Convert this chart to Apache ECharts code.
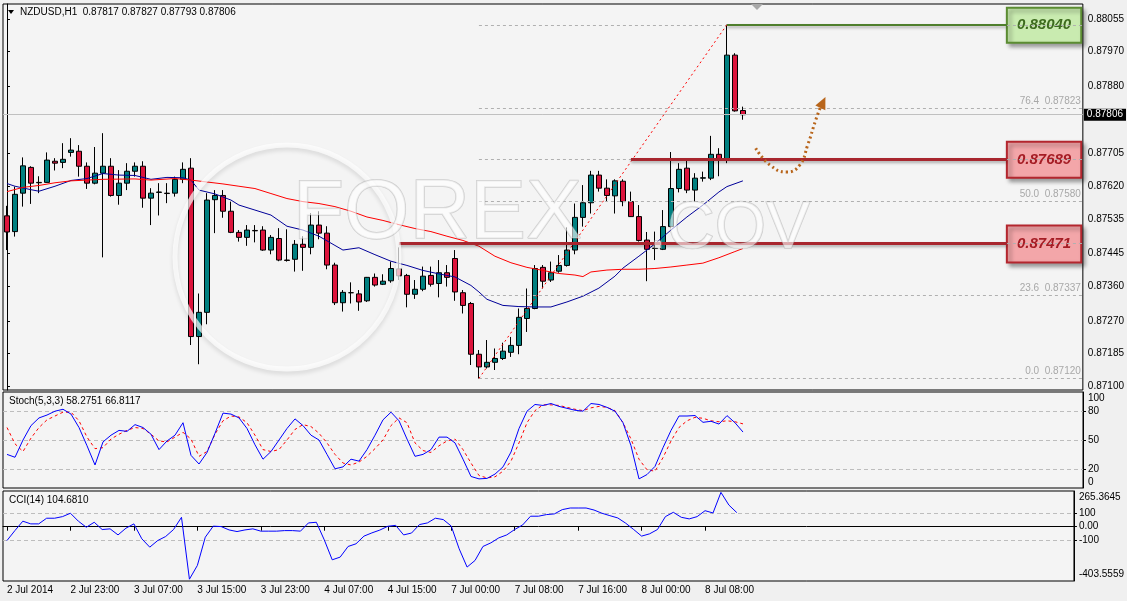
<!DOCTYPE html>
<html>
<head>
<meta charset="utf-8">
<script src="https://cdn.jsdelivr.net/npm/echarts@6.0.0/dist/echarts.min.js"></script>
<style>
  html, body { margin: 0; padding: 0; background: #f0f0f0; }
  #chart { width: 1127px; height: 601px; }
</style>
</head>
<body>
<div id="chart"></div>
<script>
// ---- data ----
var symbolName = "NZDUSD,H1";
var slotCount = 135;   // 93 bars + empty chart shift on the right
var labelStep = 8;
var tickLabels = ["2 Jul 2014", "2 Jul 23:00", "3 Jul 07:00", "3 Jul 15:00", "3 Jul 23:00", "4 Jul 07:00",
  "4 Jul 15:00", "7 Jul 00:00", "7 Jul 08:00", "7 Jul 16:00", "8 Jul 00:00", "8 Jul 08:00"];

var open = [0.87543,0.87502,0.87602,0.87669,0.87630,0.87630,0.87685,0.87682,0.87708,0.87711,
  0.87672,0.87628,0.87654,0.87672,0.87596,0.87628,0.87659,0.87672,0.87589,0.87604,
  0.87602,0.87602,0.87638,0.87667,0.87229,0.87292,0.87585,0.87596,0.87555,0.87500,
  0.87487,0.87505,0.87506,0.87454,0.87484,0.87428,0.87430,0.87469,0.87461,0.87519,
  0.87498,0.87415,0.87317,0.87343,0.87340,0.87322,0.87383,0.87365,0.87374,0.87405,
  0.87388,0.87339,0.87352,0.87388,0.87367,0.87395,0.87432,0.87343,0.87315,0.87183,
  0.87150,0.87162,0.87172,0.87188,0.87206,0.87276,0.87302,0.87409,0.87376,0.87399,
  0.87414,0.87454,0.87539,0.87577,0.87649,0.87615,0.87595,0.87633,0.87580,0.87541,
  0.87480,0.87458,0.87456,0.87515,0.87614,0.87667,0.87610,0.87641,0.87641,0.87703,
  0.87690,0.87961,0.87817];
var close = [0.87501,0.87599,0.87673,0.87628,0.87629,0.87688,0.87680,0.87690,0.87714,0.87672,
  0.87628,0.87654,0.87672,0.87596,0.87628,0.87659,0.87672,0.87589,0.87602,0.87605,
  0.87601,0.87638,0.87664,0.87229,0.87292,0.87584,0.87596,0.87555,0.87500,0.87487,
  0.87506,0.87504,0.87454,0.87487,0.87428,0.87427,0.87469,0.87461,0.87519,0.87498,
  0.87415,0.87317,0.87344,0.87343,0.87319,0.87383,0.87363,0.87373,0.87406,0.87387,
  0.87339,0.87352,0.87386,0.87365,0.87395,0.87383,0.87345,0.87310,0.87183,0.87150,
  0.87162,0.87172,0.87191,0.87206,0.87279,0.87302,0.87406,0.87373,0.87395,0.87414,
  0.87454,0.87539,0.87577,0.87649,0.87615,0.87596,0.87634,0.87580,0.87541,0.87479,
  0.87456,0.87459,0.87515,0.87614,0.87664,0.87610,0.87641,0.87642,0.87703,0.87690,
  0.87961,0.87816,0.87806];
var high = [0.87569,0.87619,0.87695,0.87672,0.87646,0.87708,0.87693,0.87732,0.87745,0.87727,
  0.87682,0.87722,0.87758,0.87693,0.87662,0.87680,0.87682,0.87685,0.87615,0.87628,
  0.87628,0.87645,0.87682,0.87693,0.87341,0.87602,0.87610,0.87610,0.87580,0.87506,
  0.87519,0.87519,0.87516,0.87493,0.87511,0.87508,0.87480,0.87490,0.87550,0.87555,
  0.87516,0.87421,0.87350,0.87370,0.87350,0.87384,0.87393,0.87391,0.87424,0.87461,
  0.87392,0.87376,0.87411,0.87411,0.87428,0.87415,0.87454,0.87350,0.87319,0.87194,
  0.87220,0.87198,0.87213,0.87228,0.87302,0.87354,0.87415,0.87415,0.87424,0.87441,
  0.87513,0.87575,0.87623,0.87660,0.87660,0.87638,0.87638,0.87638,0.87606,0.87571,
  0.87501,0.87502,0.87558,0.87709,0.87680,0.87686,0.87654,0.87658,0.87751,0.87719,
  0.88040,0.87966,0.87827];
var low = [0.87454,0.87489,0.87567,0.87574,0.87602,0.87629,0.87661,0.87667,0.87697,0.87645,
  0.87613,0.87625,0.87435,0.87593,0.87572,0.87610,0.87645,0.87564,0.87519,0.87544,
  0.87576,0.87593,0.87628,0.87207,0.87157,0.87261,0.87498,0.87538,0.87498,0.87476,
  0.87465,0.87474,0.87452,0.87443,0.87425,0.87424,0.87398,0.87400,0.87443,0.87482,
  0.87404,0.87311,0.87294,0.87315,0.87296,0.87319,0.87359,0.87363,0.87369,0.87376,
  0.87305,0.87327,0.87347,0.87359,0.87331,0.87359,0.87322,0.87289,0.87155,0.87120,
  0.87146,0.87142,0.87168,0.87176,0.87183,0.87241,0.87300,0.87354,0.87371,0.87395,
  0.87411,0.87443,0.87515,0.87549,0.87606,0.87580,0.87549,0.87568,0.87540,0.87476,
  0.87373,0.87428,0.87454,0.87513,0.87604,0.87602,0.87580,0.87632,0.87636,0.87646,
  0.87680,0.87814,0.87793];

// moving averages, read at the bars where the line bends
var maBlueBars = [0,1,3,4,6,8,10,12,14,16,18,20,22,23,24,26,28,29,31,33,35,37,39,41,42,44,46,48,50,52,
  54,56,58,59,60,62,64,66,68,70,72,74,76,77,79,81,83,85,87,89,90,92];
var maBlue = [0.87627,0.87620,0.87611,0.87607,0.87620,0.87635,0.87640,0.87653,0.87649,0.87648,
  0.87638,0.87643,0.87642,0.87636,0.87610,0.87600,0.87584,0.87571,0.87558,0.87545,
  0.87516,0.87506,0.87490,0.87466,0.87454,0.87460,0.87442,0.87425,0.87414,0.87401,
  0.87392,0.87384,0.87362,0.87345,0.87326,0.87310,0.87307,0.87306,0.87306,0.87319,
  0.87334,0.87355,0.87386,0.87407,0.87438,0.87470,0.87506,0.87540,0.87571,0.87605,
  0.87619,0.87634];
var maRedBars = [0,2,4,6,8,10,12,16,18,21,23,25,27,29,31,33,35,37,39,41,43,45,47,49,51,53,55,57,59,61,
  63,65,67,69,71,72,73,75,77,79,81,83,85,87,89,91,92];
var maRed = [0.87606,0.87617,0.87622,0.87629,0.87634,0.87636,0.87638,0.87639,0.87636,0.87640,
  0.87636,0.87631,0.87626,0.87620,0.87614,0.87601,0.87588,0.87580,0.87575,0.87567,
  0.87555,0.87540,0.87531,0.87520,0.87510,0.87502,0.87490,0.87479,0.87464,0.87438,
  0.87421,0.87409,0.87401,0.87393,0.87389,0.87385,0.87397,0.87402,0.87404,0.87404,
  0.87406,0.87410,0.87415,0.87420,0.87434,0.87450,0.87458];

var stochK = [35,32,50,65,73,76,80,82,77,63,44,24,48,55,60,59,66,63,56,40,
  49,55,68,34,25,37,57,78,77,73,62,45,30,38,50,62,72,65,55,50,
  35,20,22,30,28,40,55,71,79,70,51,33,35,40,53,53,47,30,12,9.5,
  10,14.5,22,37.5,62,80,87,86,88,85,83,81,80,88,87,84,80,68,44,9.5,
  14,22.5,42,60,75,75,75.5,68.4,69.5,66.6,75.4,68,58.2751];
var stochD = [63,46,38,52,63,71,75,79,79,70,53,41,42,51,56,60,63,62,56,49,
  48,53,58,51,33,38,56,70,75,74,68,55,40,38,40,50,61,66,64,57,
  47,35,26,24,27,33,41,50,65,73,68,47,39,37,44,49,51,40,26,13,
  10.5,11.6,17.5,28,47,68,80.6,86.6,86.6,86,84,82,80.6,83.5,85,84,80.6,68,51,30,
  19,17.5,31.6,49,63,70,73.6,72.6,70,69,70,69,66.8117];
var cci = [-103,-29,41,21,21,63,63,75,100,41,-4,33,-21,-16,-61,-11,21,-90,-152,-103,
  -73,-21,70,-390,-288,-78,4,1,-24,-36,-24,-16,-33,-33,-33,-29,-29,-33,28,33,
  -98,-246,-226,-147,-127,-70,-46,-25,3,10,-61,-47,16,28,63,53,5,-164,-300,-251,
  -147,-120,-83,-61,-21,13,78,78,90,95,127,139,139,139,124,100,82,65,26,-21,
  -70,-53,-21,75,107,70,58,75,119,102,255,161,104.681];

var priceTicks = [0.88055,0.8797,0.8788,0.87705,0.8762,0.87535,0.87445,0.8736,0.8727,0.87185,0.871];
var stochLevels = [80, 50, 20];
var cciLevels = [100, -100];
var cciMin = -403.5559, cciMax = 265.3645;

// fibonacci drawn from the low (bar 59) to the high (bar 90)
var fibFromBar = 59, fibToBar = 90;
var fibLevels = [0, 23.6, 38.2, 50, 61.8, 76.4, 100];
var fibPrices = [0.8712, 0.87337, 0.87471, 0.8758, 0.87689, 0.87823, 0.8804];

// marked support / resistance
var resistPrice = 0.8804, resistFrom = 90;
var supportPrices = [0.87689, 0.87471];
var supportFrom = [78, 49];
var boxFrom = 125;

// hand drawn arrow
var arrowBars = [93.6, 95.4, 97.5, 99.1, 100.1, 101.1, 101.75];
var arrowPrices = [0.87719, 0.87675, 0.87657, 0.87675, 0.87727, 0.87792, 0.87829];

// ---- chart ----
var FONT = "Liberation Sans";
var chart = echarts.init(document.getElementById("chart"), null, { renderer: "canvas" });

var cats = [];
for (var i = 0; i < slotCount; i++) cats.push(String(i));
var candles = open.map(function (o, i) { return [o, close[i], low[i], high[i]]; });
function pairs(xs, ys) { return xs.map(function (x, i) { return [x, ys[i]]; }); }
var last = close.length - 1;

function everyStep(idx) { return idx % labelStep === 0 && idx / labelStep < tickLabels.length; }

// levels hidden behind the boxes get no text
function coveredLevel(p) { return p === resistPrice || supportPrices.indexOf(p) >= 0; }

var fibLines = fibLevels.map(function (lv, i) {
  return [
    { coord: [fibFromBar, fibPrices[i]],
      label: { show: !coveredLevel(fibPrices[i]), formatter: lv.toFixed(1) + "  " + fibPrices[i].toFixed(5) } },
    { coord: [slotCount - 0.5, fibPrices[i]] }
  ];
});
fibLines.push([
  { coord: [fibFromBar, fibPrices[0]], label: { show: false },
    lineStyle: { color: "#ff0000", type: [2, 3], width: 1 } },
  { coord: [fibToBar, fibPrices[fibPrices.length - 1]] }
]);

var boxStyle = function (fill, border) {
  return { color: fill, borderColor: border, borderWidth: 2,
    shadowColor: "rgba(0,0,0,0.35)", shadowBlur: 4, shadowOffsetX: 3, shadowOffsetY: 3 };
};
var boxLabel = function (txt, col) {
  return { show: true, position: "inside", formatter: txt, color: col, fontSize: 15,
    fontWeight: "bold", fontStyle: "italic", fontFamily: FONT };
};
var pxPer = 0.01004 / 386;
var levelShadow = { shadowColor: "rgba(0,0,0,0.3)", shadowBlur: 3, shadowOffsetY: 2 };

var option = {
  animation: false,
  backgroundColor: "#f0f0f0",
  grid: [
    { left: 3, right: 44, top: 4, height: 386, show: true, borderColor: "#000", borderWidth: 1, backgroundColor: "#f4f4f4" },
    { left: 3, right: 44, top: 392, height: 96, show: true, borderColor: "#000", borderWidth: 1, backgroundColor: "#f4f4f4" },
    { left: 3, right: 44, top: 491, height: 90, show: true, borderColor: "#000", borderWidth: 1, backgroundColor: "#f4f4f4" }
  ],
  xAxis: [
    { type: "category", gridIndex: 0, data: cats, show: false },
    { type: "category", gridIndex: 1, data: cats, show: false },
    { type: "category", gridIndex: 2, data: cats,
      axisLine: { show: true, lineStyle: { color: "#000" } },
      axisTick: { show: true, alignWithLabel: true, length: 4, interval: everyStep, lineStyle: { color: "#000" } },
      axisLabel: { interval: everyStep, align: "left", margin: 4, color: "#000", fontSize: 10, fontFamily: FONT,
        formatter: function (v, idx) { return tickLabels[idx / labelStep] || ""; } } },
    { type: "value", gridIndex: 0, min: -0.5, max: slotCount - 0.5, show: false }
  ],
  yAxis: [
    { type: "value", gridIndex: 0, position: "right", min: 0.8709, max: 0.88094, scale: true,
      splitLine: { show: false },
      axisLine: { show: true, lineStyle: { color: "#000" } },
      axisTick: { show: true, length: 3, customValues: priceTicks, lineStyle: { color: "#000" } },
      axisLabel: { customValues: priceTicks, margin: 5, color: "#000", fontSize: 10, fontFamily: FONT,
        formatter: function (v) { return v.toFixed(5); } } },
    { type: "value", gridIndex: 1, position: "right", min: 0, max: 100,
      splitLine: { show: false },
      axisLine: { show: true, lineStyle: { color: "#000" } },
      axisTick: { show: true, length: 3, customValues: stochLevels, lineStyle: { color: "#000" } },
      axisLabel: { customValues: [100, 80, 50, 20, 0], showMinLabel: true, showMaxLabel: true, hideOverlap: false,
        margin: 5, color: "#000", fontSize: 10, fontFamily: FONT,
        formatter: function (v) { return v === 100 ? "{t|100}" : v === 0 ? "{b|0}" : String(v); },
        rich: { t: { padding: [13, 0, 0, 0], fontSize: 10, fontFamily: FONT, color: "#000" },
                b: { padding: [0, 0, 12, 0], fontSize: 10, fontFamily: FONT, color: "#000" } } } },
    { type: "value", gridIndex: 2, position: "right", min: cciMin, max: cciMax,
      splitLine: { show: false },
      axisLine: { show: true, lineStyle: { color: "#000" } },
      axisTick: { show: true, length: 3, customValues: [100, 0, -100], lineStyle: { color: "#000" } },
      axisLabel: { customValues: [cciMax, 100, 0, -100, cciMin], showMinLabel: true, showMaxLabel: true,
        margin: 5, color: "#000", fontSize: 10, fontFamily: FONT,
        formatter: function (v) {
          if (v === cciMax) return "{t|" + v.toFixed(4) + "}";
          if (v === cciMin) return "{b|" + v.toFixed(4) + "}";
          return v === 0 ? "0.00" : String(v);
        },
        rich: { t: { padding: [13, 0, 0, 0], fontSize: 10, fontFamily: FONT, color: "#000" },
                b: { padding: [0, 0, 14, 0], fontSize: 10, fontFamily: FONT, color: "#000" } } } }
  ],
  series: [
    { type: "line", name: "bid", xAxisIndex: 3, yAxisIndex: 0, data: [], z: 1,
      markLine: { silent: true, symbol: ["none", "none"],
        lineStyle: { color: "#c0c0c0", type: "solid", width: 1 },
        label: { show: true, position: "end", distance: 1, formatter: close[last].toFixed(5),
          backgroundColor: "#000", color: "#fff", fontSize: 10, fontFamily: FONT, padding: [1, 3, 1, 3] },
        data: [[{ coord: [-0.5, close[last]] }, { coord: [slotCount - 0.5, close[last]] }]] } },
    { type: "candlestick", xAxisIndex: 0, yAxisIndex: 0, data: candles, barWidth: 5, z: 3,
      itemStyle: { color: "#008080", color0: "#dc143c", borderColor: "#000", borderColor0: "#000", borderWidth: 1 } },
    { type: "line", name: "MA fast", xAxisIndex: 3, yAxisIndex: 0, data: pairs(maBlueBars, maBlue),
      symbol: "none", z: 4, lineStyle: { color: "#000099", width: 1 } },
    { type: "line", name: "MA slow", xAxisIndex: 3, yAxisIndex: 0, data: pairs(maRedBars, maRed),
      symbol: "none", z: 4, lineStyle: { color: "#ff0000", width: 1 } },
    { type: "line", name: "fib", xAxisIndex: 3, yAxisIndex: 0, data: [], z: 5,
      markLine: { silent: true, symbol: ["none", "none"],
        lineStyle: { color: "#b0b0b0", type: [3, 3], width: 1 },
        label: { position: "insideEndTop", color: "#a8a8a8", fontSize: 10, fontFamily: FONT, distance: 2 },
        data: fibLines } },
    { type: "line", name: "arrow", xAxisIndex: 3, yAxisIndex: 0, data: pairs(arrowBars, arrowPrices),
      smooth: 0.5, symbol: "none", z: 6,
      lineStyle: { color: "#b8651b", width: 3, type: [2, 3] },
      markPoint: { silent: true, symbol: "triangle", symbolSize: [11, 12], symbolRotate: -25,
        itemStyle: { color: "#b8651b" }, label: { show: false },
        data: [{ coord: [102, 0.87838] }] } },
    { type: "line", name: "levels", xAxisIndex: 3, yAxisIndex: 0, data: [], z: 7,
      markLine: { silent: true, symbol: ["none", "none"], label: { show: false },
        data: [
          [{ coord: [resistFrom, resistPrice],
             lineStyle: Object.assign({ color: "#4f7f2d", width: 2, type: "solid" }, levelShadow) },
           { coord: [boxFrom, resistPrice] }],
          [{ coord: [supportFrom[0], supportPrices[0]],
             lineStyle: Object.assign({ color: "#a8262e", width: 3, type: "solid" }, levelShadow) },
           { coord: [boxFrom, supportPrices[0]] }],
          [{ coord: [supportFrom[1], supportPrices[1]],
             lineStyle: Object.assign({ color: "#a8262e", width: 3, type: "solid" }, levelShadow) },
           { coord: [boxFrom, supportPrices[1]] }]
        ] },
      markArea: { silent: true,
        data: [
          [{ coord: [boxFrom, resistPrice + 17 * pxPer], itemStyle: boxStyle("#c9ebb0", "#5b8c32"),
             label: boxLabel(resistPrice.toFixed(5), "#3d6b1f") },
           { coord: [slotCount - 0.7, resistPrice - 18 * pxPer] }],
          [{ coord: [boxFrom, supportPrices[0] + 18 * pxPer], itemStyle: boxStyle("#f3a6a9", "#b3262e"),
             label: boxLabel(supportPrices[0].toFixed(5), "#a51d25") },
           { coord: [slotCount - 0.7, supportPrices[0] - 18 * pxPer] }],
          [{ coord: [boxFrom, supportPrices[1] + 18 * pxPer], itemStyle: boxStyle("#f3a6a9", "#b3262e"),
             label: boxLabel(supportPrices[1].toFixed(5), "#a51d25") },
           { coord: [slotCount - 0.7, supportPrices[1] - 19 * pxPer] }]
        ] } },
    { type: "line", name: "%K", xAxisIndex: 1, yAxisIndex: 1, data: stochK, symbol: "none", z: 4,
      lineStyle: { color: "#0000ff", width: 1 },
      markLine: { silent: true, symbol: ["none", "none"], label: { show: false }, z: 1,
        lineStyle: { color: "#bdbdbd", type: [4, 3], width: 1 },
        data: stochLevels.map(function (v) { return { yAxis: v }; }) } },
    { type: "line", name: "%D", xAxisIndex: 1, yAxisIndex: 1, data: stochD, symbol: "none", z: 3,
      lineStyle: { color: "#ff0000", width: 1, type: [3, 3] } },
    { type: "line", name: "CCI", xAxisIndex: 2, yAxisIndex: 2, data: cci, symbol: "none", z: 4,
      lineStyle: { color: "#0000ff", width: 1 },
      markLine: { silent: true, symbol: ["none", "none"], label: { show: false }, z: 1,
        lineStyle: { color: "#bdbdbd", type: [4, 3], width: 1 },
        data: cciLevels.map(function (v) { return { yAxis: v }; }) } }
  ],
  graphic: [
    // watermark
    { type: "circle", silent: true, z: 20, shape: { cx: 287, cy: 257, r: 112 },
      style: { fill: "none", stroke: "rgba(255,255,255,0.7)", lineWidth: 5,
        shadowColor: "rgba(0,0,0,0.15)", shadowBlur: 4, shadowOffsetY: 3 } },
    { type: "text", silent: true, z: 20, left: 292, top: 172,
      style: { text: "FOREX", font: "84px 'Liberation Sans'", fill: "rgba(255,255,255,0.6)",
        stroke: "rgba(150,150,150,0.4)", lineWidth: 1.5 } },
    { type: "text", silent: true, z: 20, left: 648, top: 196,
      style: { text: ".COV", font: "66px 'Liberation Sans'", fill: "rgba(255,255,255,0.6)",
        stroke: "rgba(150,150,150,0.4)", lineWidth: 1.5 } },
    // header
    { type: "polygon", z: 30, shape: { points: [[8, 10], [14, 10], [11, 14]] }, style: { fill: "#000" } },
    { type: "text", z: 30, left: 20, top: 7,
      style: { text: symbolName + "  " + open[last].toFixed(5) + " " + high[last].toFixed(5) + " " +
          low[last].toFixed(5) + " " + close[last].toFixed(5),
        font: "10px 'Liberation Sans'", fill: "#000" } },
    { type: "polygon", z: 30, shape: { points: [[751, 4], [763, 4], [757, 10]] }, style: { fill: "#a8a8a8" } },
    { type: "text", z: 30, left: 9, top: 396,
      style: { text: "Stoch(5,3,3) " + stochK[last].toFixed(4) + " " + stochD[last].toFixed(4),
        font: "10px 'Liberation Sans'", fill: "#000" } },
    { type: "text", z: 30, left: 9, top: 495,
      style: { text: "CCI(14) " + cci[last].toFixed(4), font: "10px 'Liberation Sans'", fill: "#000" } }
  ]
};

chart.setOption(option);
window.addEventListener("resize", chart.resize);
</script>
</body>
</html>
